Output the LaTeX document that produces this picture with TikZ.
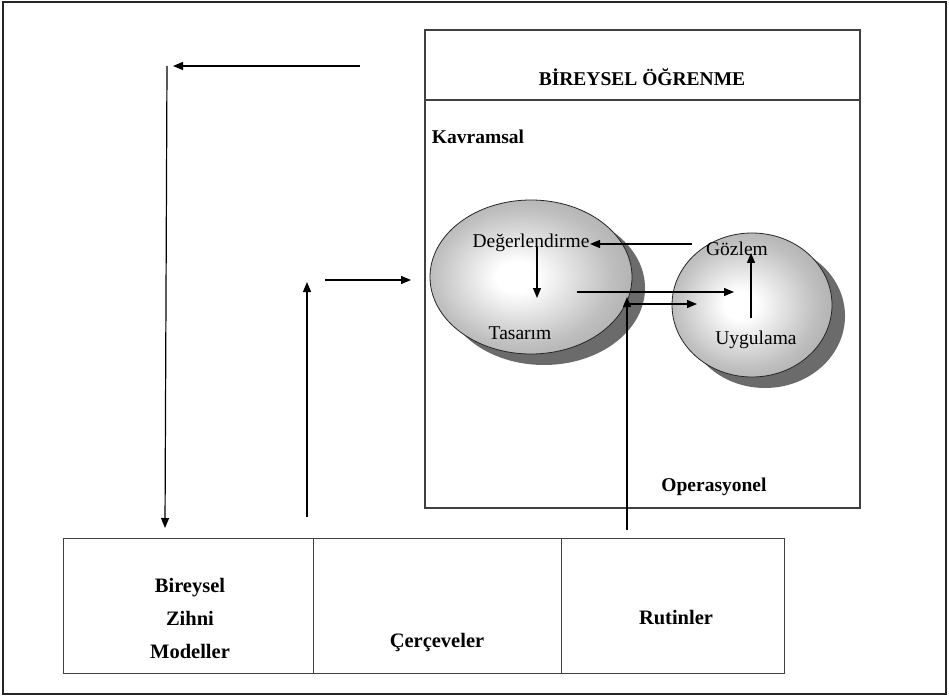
\documentclass[tikz,border=0pt]{standalone}
\usepackage{fontspec}
\setmainfont{Liberation Serif}
\usetikzlibrary{arrows.meta,shapes.geometric,shadows}

% soft ball shading: white core, grey rim
\pgfdeclareradialshading{ballshade}{\pgfpoint{-4bp}{0bp}}{%
  color(0bp)=(white); color(5bp)=(white);
  color(22bp)=(black!25); color(40bp)=(black!42); color(50bp)=(black!48)}

\tikzset{
  frameline/.style={draw=black!75, line width=1.3pt},
  link/.style={draw=black, line width=1.2pt, -{Triangle[length=10pt,width=8pt]}},
  ball/.style={ellipse, draw=black!85, line width=0.8pt, shading=ballshade,
    inner sep=0pt,
    drop shadow={shadow xshift=13pt, shadow yshift=-11pt, fill=black!58, opacity=1}},
  label/.style={font=\fontsize{19.5}{22}\selectfont, inner sep=0pt},
  boldlabel/.style={font=\fontsize{19.5}{22}\selectfont\bfseries, inner sep=0pt},
  tablelabel/.style={font=\fontsize{20.5}{22}\selectfont\bfseries, inner sep=0pt},
  cell/.style={draw=black!75, line width=1.1pt, minimum height=135pt, inner sep=0pt}
}

\begin{document}
\begin{tikzpicture}[x=1pt,y=-1pt]
  \useasboundingbox (0,0) rectangle (949,700);
  \fill[white] (0,0) rectangle (949,700);

  % outer frame
  \draw[draw=black!85, line width=2pt] (3,2) rectangle (946,694);

  % learning box with header
  \draw[frameline] (425,30) rectangle (860,508);
  \draw[frameline] (425,100) -- (860,100);
  \node[boldlabel] (title) at (642,77) {BİREYSEL ÖĞRENME};
  \node[boldlabel] (kavram) at (478,137) {Kavramsal};
  \node[boldlabel] (opera) at (714,487) {Operasyonel};

  % the two cycles
  \node[ball, minimum width=202pt, minimum height=154pt] (left) at (531,277) {};
  \node[ball, minimum width=160pt, minimum height=144pt] (right) at (752,305) {};

  \node[label] (deger) at (531,243) {Değerlendirme};
  \node[label] (tasar) at (520,333) {Tasarım};
  \node[label] (gozlem) at (737,249) {Gözlem};
  \node[label] (uygul) at (756,340) {Uygulama};

  % bottom table
  \node[cell, minimum width=250pt, anchor=north west] (modeller) at (63,538) {};
  \node[cell, minimum width=248pt, anchor=north west] (cerceve) at (313,538) {};
  \node[cell, minimum width=223pt, anchor=north west] (rutin) at (561,538) {};
  \node[tablelabel, align=center] (bzm) at (190,618)
    {Bireysel\\[11pt]Zihni\\[11pt]Modeller};
  \node[tablelabel] (cerc) at (437,642) {Çerçeveler};
  \node[tablelabel] (rut) at (676,618) {Rutinler};

  % connector end points
  \coordinate (feedS) at (360,66);
  \coordinate (feedE) at (173,66);
  \coordinate (downS) at (167,66);
  \coordinate (downE) at (165,528);
  \coordinate (upS) at (307,517);
  \coordinate (upE) at (307,282);
  \coordinate (inS) at (325,280);
  \coordinate (inE) at (411,280);
  \coordinate (rutS) at (627,530);
  \coordinate (rutE) at (627,297);
  \coordinate (rutR) at (627,304);
  \coordinate (rutRE) at (697,304);
  \coordinate (midS) at (577,292);
  \coordinate (midE) at (734,292);
  \coordinate (obsS) at (692,244);
  \coordinate (obsE) at (590,244);
  \coordinate (desS) at (537,247);
  \coordinate (desE) at (537,298);
  \coordinate (appS) at (751,318);
  \coordinate (appE) at (751,253);

  % connectors
  \draw[link] (feedS) -- (feedE);
  \draw[link] (downS) -- (downE);
  \draw[link] (upS) -- (upE);
  \draw[link] (inS) -- (inE);
  \draw[link] (rutS) -- (rutE);
  \draw[link] (rutR) -- (rutRE);
  \draw[link] (midS) -- (midE);
  \draw[link] (obsS) -- (obsE);
  \draw[link] (desS) -- (desE);
  \draw[link] (appS) -- (appE);
\end{tikzpicture}
\end{document}
